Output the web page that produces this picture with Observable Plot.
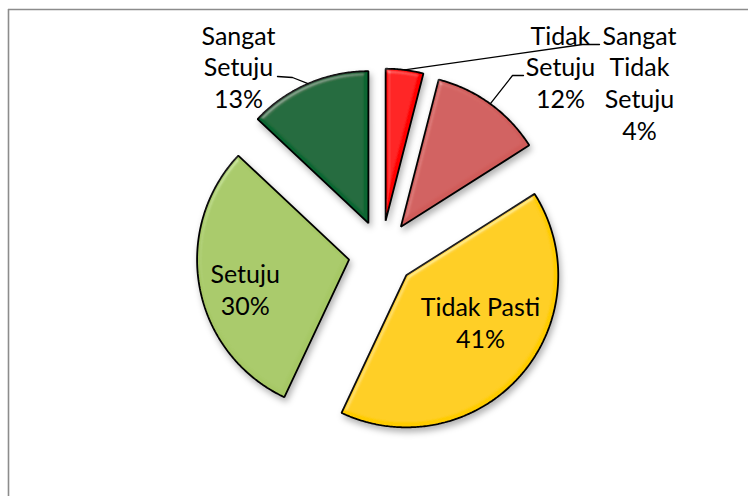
<!DOCTYPE html>
<html><head><meta charset="utf-8">
<script src="https://cdn.jsdelivr.net/npm/d3@7"></script>
<script src="https://cdn.jsdelivr.net/npm/@observablehq/plot@0.6"></script>
<style>body{margin:0;background:#fff} #chart{width:748px;height:496px}</style>
</head><body><div id="chart"></div>
<script>
// ---- data ----
const categories = ["Sangat Tidak Setuju", "Tidak Setuju", "Tidak Pasti", "Setuju", "Sangat Setuju"];
const percents = [4, 12, 41, 30, 13];
const colors = ["#ff0000", "#d05c5a", "#ffcc00", "#a6c865", "#076632"];

// ---- layout ----
const W = 748, H = 496;
const cx = 381, cy = 253, R = 152, explode = 33;
const fontSize = 25, lineHeight = 1.28;
const outsideLabels = [
  {name: "Sangat Tidak Setuju", x: 639, baseline: 44, elbow: [582, 44], end: [599, 44]},
  {name: "Tidak Setuju", x: 560, baseline: 44, elbow: [512, 75], end: [523, 75]},
  {name: "Sangat Setuju", x: 238, baseline: 44, elbow: [292, 77], end: [277, 76]}
];
const insideLabels = [
  {name: "Tidak Pasti", dAngle: -9.5, r: 0.575},
  {name: "Setuju", dAngle: -5, r: 0.71}
];

const polar = (a, r) => [Math.sin(a) * r, -Math.cos(a) * r];
const data = categories.map((name, i) => ({name, value: percents[i], color: colors[i]}));
const arcs = d3.pie().sort(null).value(d => d.value).startAngle(0).endAngle(2 * Math.PI)(data);
const slices = arcs.map(a => {
  const mid = (a.startAngle + a.endAngle) / 2;
  const [ox, oy] = polar(mid, explode);
  const vx = cx + ox, vy = cy + oy;
  const n = Math.max(4, Math.ceil((a.endAngle - a.startAngle) / 0.01));
  const pts = [{x: vx, y: vy}];
  for (let k = 0; k <= n; k++) {
    const t = a.startAngle + (a.endAngle - a.startAngle) * k / n;
    const [px, py] = polar(t, R);
    pts.push({x: vx + px, y: vy + py});
  }
  return {name: a.data.name, value: a.data.value, color: a.data.color, mid, vx, vy, pts};
});
const byName = Object.fromEntries(slices.map(s => [s.name, s]));

const leaders = [];
outsideLabels.forEach(l => {
  const s = byName[l.name];
  const [px, py] = polar(s.mid, R);
  leaders.push({id: l.name, x: s.vx + px, y: s.vy + py});
  leaders.push({id: l.name, x: l.elbow[0], y: l.elbow[1]});
  leaders.push({id: l.name, x: l.end[0], y: l.end[1]});
});
const firstOffset = 0.71 * lineHeight * fontSize;
const outsideText = outsideLabels.map(l => ({
  x: l.x, y: l.baseline - firstOffset,
  text: l.name.split(" ").join("\n") + "\n" + byName[l.name].value + "%"
}));
const insideText = insideLabels.map(l => {
  const s = byName[l.name];
  const [px, py] = polar(s.mid + l.dAngle * Math.PI / 180, l.r * R);
  return {x: s.vx + px, y: s.vy + py, text: l.name + "\n" + s.value + "%"};
});

const svg = Plot.plot({
  width: W, height: H, margin: 0,
  x: {domain: [0, W], range: [0, W], axis: null},
  y: {domain: [0, H], range: [0, H], axis: null},
  style: {fontFamily: "Lato, 'Open Sans', sans-serif", background: "white"},
  marks: [
    Plot.ruleY([9], {x1: 8, x2: W, stroke: "#8c8c8c", strokeWidth: 1.6}),
    Plot.ruleX([8], {y1: 9, y2: H, stroke: "#8c8c8c", strokeWidth: 1.6}),
    ...slices.map(s => Plot.line(s.pts, {x: "x", y: "y", curve: "linear-closed", fill: s.color,
      stroke: "#000", strokeWidth: 1.8, strokeLinejoin: "miter"})),
    Plot.line(leaders, {x: "x", y: "y", z: "id", stroke: "#000", strokeWidth: 1.3}),
    Plot.text(outsideText, {x: "x", y: "y", text: "text", fontSize, lineHeight, lineAnchor: "top", textAnchor: "middle", fill: "#000"}),
    Plot.text(insideText, {x: "x", y: "y", text: "text", fontSize, lineHeight, lineAnchor: "middle", textAnchor: "middle", fill: "#000"})
  ]
});

// bevel + shadow filter applied to the slice groups
const defs = d3.select(svg).insert("defs", ":first-child");
const f = defs.append("filter").attr("id", "bevel").attr("x", "-15%").attr("y", "-15%").attr("width", "135%").attr("height", "135%");
f.append("feGaussianBlur").attr("in", "SourceAlpha").attr("stdDeviation", 2.5).attr("result", "blur");
const spec = f.append("feSpecularLighting").attr("in", "blur").attr("surfaceScale", 3).attr("specularConstant", 0.6)
  .attr("specularExponent", 40).attr("lighting-color", "#ffffff").attr("result", "spec");
spec.append("feDistantLight").attr("azimuth", 235).attr("elevation", 50);
f.append("feComposite").attr("in", "spec").attr("in2", "SourceAlpha").attr("operator", "in").attr("result", "specIn");
f.append("feComposite").attr("in", "SourceGraphic").attr("in2", "specIn").attr("operator", "arithmetic")
  .attr("k1", 0).attr("k2", 1).attr("k3", 0.35).attr("k4", 0).attr("result", "lit");
f.append("feGaussianBlur").attr("in", "SourceAlpha").attr("stdDeviation", 3).attr("result", "sblur");
f.append("feOffset").attr("in", "sblur").attr("dx", 2).attr("dy", 4).attr("result", "soff");
f.append("feFlood").attr("flood-color", "#000").attr("flood-opacity", 0.3).attr("result", "sc");
f.append("feComposite").attr("in", "sc").attr("in2", "soff").attr("operator", "in").attr("result", "shadow");
const m = f.append("feMerge");
m.append("feMergeNode").attr("in", "shadow");
m.append("feMergeNode").attr("in", "lit");
d3.select(svg).selectAll('g[aria-label="line"]').filter(function () {
  const fl = this.getAttribute("fill");
  return fl && fl !== "none";
}).selectAll("path").attr("filter", "url(#bevel)");

document.getElementById("chart").appendChild(svg);
</script>
</body></html>
